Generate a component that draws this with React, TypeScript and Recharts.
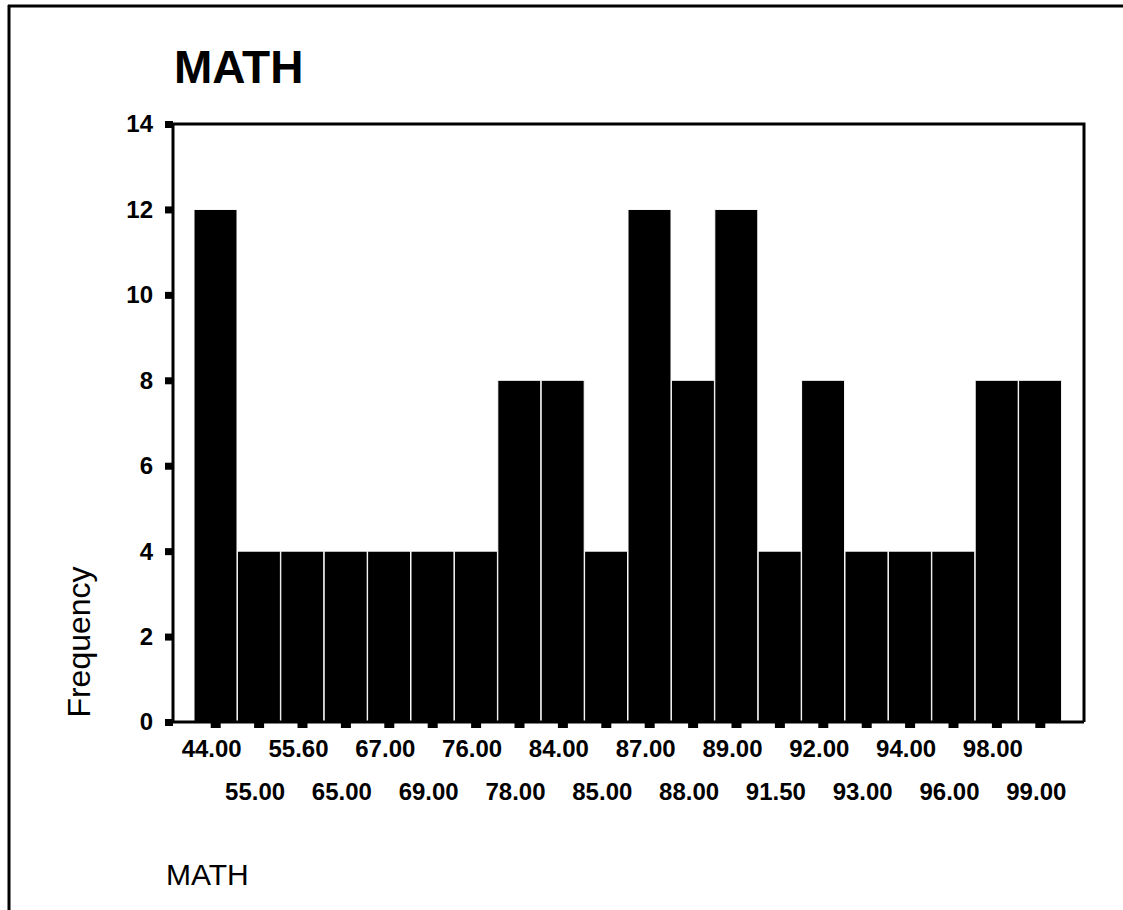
import React from 'react';
import * as R from 'recharts';
import { BarChart, Bar, XAxis, YAxis } from 'recharts';

// MATH score categories and their frequencies
const mathScores = ['44.00', '55.00', '55.60', '65.00', '67.00', '69.00', '76.00', '78.00', '84.00', '85.00',
    '87.00', '88.00', '89.00', '91.50', '92.00', '93.00', '94.00', '96.00', '98.00', '99.00'];
const frequencies = [12, 4, 4, 4, 4, 4, 4, 8, 8, 4, 12, 8, 12, 4, 8, 4, 4, 4, 8, 8];
const frequencyTicks = [0, 2, 4, 6, 8, 10, 12, 14];

const data = mathScores.map((score, i) => ({ score, count: frequencies[i] }));

const FONT = '"Liberation Sans", Arial, sans-serif';

const XTick = (props: any) => {
    const { x, y, payload, index } = props;
    const lower = index % 2 === 1;
    return (
        <g>
            <rect x={x - 5} y={y} width={10} height={6} fill="#000" />
            <text x={x - 4} y={y + (lower ? 78 : 35)} textAnchor="middle" fontSize={24} fontWeight="bold"
                fontFamily={FONT} fill="#000">
                {payload.value}
            </text>
        </g>
    );
};

const YTick = (props: any) => {
    const { x, y, payload } = props;
    return (
        <g>
            <rect x={x - 8} y={y - 3} width={8} height={7} fill="#000" />
            <text x={x - 20} y={y} dy="0.35em" textAnchor="end" fontSize={24} fontWeight="bold"
                fontFamily={FONT} fill="#000">
                {payload.value}
            </text>
        </g>
    );
};

// box around the plot area (top and right sides)
const PlotFrame = () => {
    const area = (R as any).usePlotArea ? (R as any).usePlotArea() : null;
    if (!area) return null;
    const { x, y, width, height } = area;
    return (
        <path d={`M${x},${y} H${x + width} V${y + height}`} fill="none" stroke="#000" strokeWidth={3} />
    );
};

const App: React.FC = () => {
    return (
        <div style={{ position: 'absolute', left: 0, top: 0, width: 1123, height: 910, background: '#fff' }}>
            <svg width={1123} height={910} style={{ position: 'absolute', left: 0, top: 0 }}>
                <line x1={9} y1={5} x2={9} y2={910} stroke="#000" strokeWidth={3} />
                <line x1={8} y1={6} x2={1123} y2={6} stroke="#000" strokeWidth={3} />
                <text x={174} y={83} fontSize={46} fontWeight="bold" fontFamily={FONT} fill="#000">MATH</text>
                <text x={166} y={885} fontSize={30} fontFamily={FONT} fill="#000">MATH</text>
                <text transform="translate(90, 642) rotate(-90)" textAnchor="middle" fontSize={32}
                    fontFamily={FONT} fill="#000">
                    Frequency
                </text>
            </svg>
            <div style={{ position: 'absolute', left: 0, top: 0 }}>
                <BarChart width={1123} height={910} data={data} barCategoryGap={0}
                    margin={{ top: 124, right: 39, bottom: 128, left: 113 }}>
                    <XAxis dataKey="score" interval={0} height={60} tickSize={0} tickMargin={0}
                        padding={{ left: 21, right: 22 }} tick={<XTick />} tickLine={false}
                        axisLine={{ stroke: '#000', strokeWidth: 3 }} />
                    <YAxis domain={[0, 14]} ticks={frequencyTicks} width={60} tickSize={0} tickMargin={0}
                        tick={<YTick />} tickLine={false} axisLine={{ stroke: '#000', strokeWidth: 3 }} />
                    <Bar dataKey="count" fill="#000" stroke="#fff" strokeWidth={1} isAnimationActive={false} />
                    <PlotFrame />
                </BarChart>
            </div>
        </div>
    );
};

export default App;
